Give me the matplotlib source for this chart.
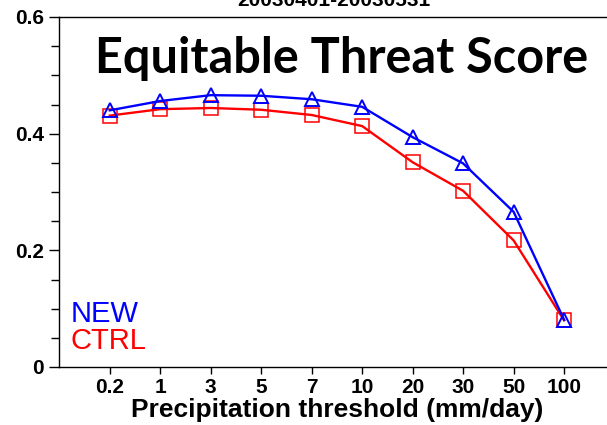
import matplotlib
matplotlib.use("Agg")
import matplotlib.pyplot as plt
from matplotlib.ticker import MultipleLocator

thresholds = ["0.2", "1", "3", "5", "7", "10", "20", "30", "50", "100"]
ets_new = [0.440, 0.456, 0.466, 0.465, 0.459, 0.446, 0.394, 0.349, 0.266, 0.081]
ets_ctrl = [0.431, 0.442, 0.444, 0.441, 0.432, 0.413, 0.351, 0.302, 0.217, 0.080]

W, H = 607, 425
fig = plt.figure(figsize=(W / 100, H / 100), dpi=100)
left_px, bottom_px, top_px = 59.3, 367, 17
ax = fig.add_axes([left_px / W, (H - bottom_px) / H, 1 - left_px / W, (bottom_px - top_px) / H])

x = list(range(1, len(thresholds) + 1))
ax.plot(x, ets_new, color="#0000FF", lw=1.7, marker="^", ms=9.5, mfc="none", mec="#0000FF", mew=1.4, zorder=3)
ax.plot(x, ets_ctrl, color="#FF0000", lw=1.7, marker="s", ms=9.5, mfc="none", mec="#FF0000", mew=1.1, zorder=2)

ax.set_xlim(0, (W - left_px) / 50.48)
ax.set_ylim(0, 0.6)
ax.set_xticks(x)
ax.set_xticklabels(thresholds)
ax.set_yticks([0, 0.2, 0.4, 0.6])
ax.set_yticklabels(["0", "0.2", "0.4", "0.6"])
ax.yaxis.set_minor_locator(MultipleLocator(0.05))

ax.spines["right"].set_visible(False)
for s in ["left", "bottom", "top"]:
    ax.spines[s].set_linewidth(1.0)
    ax.spines[s].set_color("black")

fp = dict(family="Liberation Sans", weight="bold")
ax.tick_params(axis="y", which="major", direction="out", length=7, width=1, pad=4)
ax.tick_params(axis="y", which="minor", direction="out", length=5.5, width=1)
ax.tick_params(axis="x", which="major", direction="out", length=5, width=1, pad=3)
for lab in ax.get_xticklabels() + ax.get_yticklabels():
    lab.set_fontproperties("Liberation Sans")
    lab.set_fontweight("bold")
    lab.set_fontsize(15)

fig.text(337 / W, 1 - 417 / H, "Precipitation threshold (mm/day)", ha="center", va="baseline",
         fontsize=19, **fp)

fig.text(334 / W, 1 - 6 / H, "20030401-20030531", ha="center", va="baseline",
         fontsize=15, **fp)

fig.text(95 / W, 1 - 73 / H, "Equitable Threat Score", ha="left", va="baseline",
         fontsize=35, family="Lato", weight="bold", color="black")

fig.text(71 / W, 1 - 322 / H, "NEW", color="#0000FF", fontsize=21, family="Liberation Sans",
         ha="left", va="baseline")
fig.text(71 / W, 1 - 349 / H, "CTRL", color="#FF0000", fontsize=21, family="Liberation Sans",
         ha="left", va="baseline")

fig.savefig("out.png", dpi=100)
